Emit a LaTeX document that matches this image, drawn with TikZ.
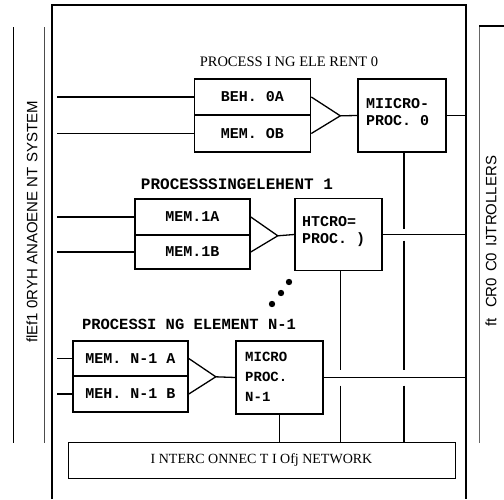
\documentclass[tikz,border=0pt]{standalone}
\usepackage{fontspec}
\setmainfont{Liberation Serif}
\setsansfont{Liberation Sans}
\setmonofont{Liberation Mono}
\begin{document}
\begin{tikzpicture}[x=1pt,y=-1pt,
  box/.style={draw, line width=1.6pt, inner sep=0pt},
  membox/.style={box, minimum width=116pt, font=\ttfamily\bfseries\fontsize{15}{15}\selectfont},
  procbox/.style={box, minimum width=87pt, minimum height=72pt},
  ptxt/.style={font=\ttfamily\bfseries\fontsize{15}{17}\selectfont, align=left, inner sep=0pt, anchor=west},
  wire/.style={line width=1.3pt},
  side/.style={font=\sffamily\fontsize{15}{15}\selectfont, rotate=90},
  serif/.style={font=\fontsize{14.5}{15}\selectfont},
  monolbl/.style={font=\ttfamily\bfseries\fontsize{15.5}{15}\selectfont}]
\useasboundingbox (0,0) rectangle (504,499);
% frame and side rules
\coordinate (FL) at (52,0);
\coordinate (FR) at (466,0);
\coordinate (WL) at (57,0);
\draw[line width=1.3pt] (52,499) -- (52,5) -- (466,5) -- (466,499);
\draw[line width=0.8pt] (13,27) -- (13,443);
\draw[line width=0.8pt, black!70] (44,27) -- (44,443);
\draw[line width=0.8pt, black!60] (479,27) -- (479,443);
\draw[line width=1.2pt] (479,26) -- (504,26);
\node[side] (lsys) at (32,222) {flEf1 0RYH ANAOENE NT SYSTEM};
\node[side] (rctl) at (491,241) {ft\hspace{10pt}CR0\hspace{6pt}C0\hspace{6pt}IJTROLLERS};

% PE 0
\node[serif] (pe0) at (289,62) {PROCESS I NG ELE RENT 0};
\node[membox, minimum height=36pt] (m0a) at (252.5,97) {BEH. 0A};
\node[membox, minimum height=37pt] (m0b) at (252.5,133.5) {MEM. OB};
\node[procbox, minimum width=88pt, minimum height=73pt] (p0) at (402,115.5) {};
\node[ptxt] (p0t) at (366,112) {MIICRO-\\PROC.\ 0};
\coordinate (a0) at ([xshift=29pt]m0a.south east);
\draw[wire] (m0a.east) -- (a0) -- (m0b.east);
\draw[wire] (a0) -- (p0.west);
\draw[wire] (m0a.west -| WL) -- (m0a.west);
\draw[wire] (m0b.west -| WL) -- (m0b.west);
\draw[wire] (p0.east) -- (p0.east -| FR);

% PE 1
\node[monolbl, font=\ttfamily\bfseries\fontsize{16}{16}\selectfont] (pe1) at (237,184) {PROCESSSINGELEHENT 1};
\node[membox, minimum width=115pt, minimum height=36pt] (m1a) at (192.5,217) {MEM.1A};
\node[membox, minimum width=115pt, minimum height=34pt] (m1b) at (192.5,252) {MEM.1B};
\node[procbox] (p1) at (338.5,234.5) {};
\node[ptxt] (p1t) at (302,232) {HTCRO=\\PROC.\ )};
\coordinate (a1) at ([xshift=27pt]m1a.south east);
\draw[wire] (m1a.east) -- (a1) -- (m1b.east);
\draw[wire] (a1) -- (p1.west);
\draw[wire] (m1a.west -| WL) -- (m1a.west);
\draw[wire] (m1b.west -| WL) -- (m1b.west);
\draw[wire] (p1.east) -- (p1.east -| FR);

% dots
\fill (289,282) circle (3.2pt);
\fill (281,293) circle (3.2pt);
\fill (272,304) circle (3.2pt);

% PE N-1
\node[monolbl] (pen) at (189,324) {PROCESSI NG ELEMENT N-1};
\node[membox, minimum width=115pt, minimum height=35pt] (mna) at (130.5,358.5) {MEM. N-1 A};
\node[membox, minimum width=115pt, minimum height=36pt] (mnb) at (130.5,394) {MEH. N-1 B};
\node[procbox, minimum height=73pt] (pn) at (279.5,377.5) {};
\node[ptxt, font=\ttfamily\bfseries\fontsize{14}{20}\selectfont] (pnt) at (245,377) {MICRO\\PROC.\\N-1};
\coordinate (an) at ([xshift=27pt]mna.south east);
\draw[wire] (mna.east) -- (an) -- (mnb.east);
\draw[wire] (an) -- (pn.west);
\draw[wire] (mna.west -| WL) -- (mna.west);
\draw[wire] (mnb.west -| WL) -- (mnb.west);
\draw[wire] (pn.east) -- (pn.east -| FR);

% network
\node[draw, line width=1pt, minimum width=387pt, minimum height=36pt, inner sep=0pt, font=\fontsize{14}{15}\selectfont] (net) at (261.5,460) {I NTERC ONNEC T I Ofj NETWORK};

% verticals to network with hop gaps
\draw[wire] ([xshift=2pt]p0.south) -- ([xshift=2pt,yshift=6pt]p0.south |- p1.east);
\draw[wire] ([xshift=2pt,yshift=-6pt]p0.south |- p1.east) -- ([xshift=2pt,yshift=8pt]p0.south |- pn.east);
\draw[wire] ([xshift=2pt,yshift=-8pt]p0.south |- pn.east) -- ([xshift=2pt]p0.south |- net.north);
\draw[wire] ([xshift=2pt]p1.south) -- ([xshift=2pt,yshift=8pt]p1.south |- pn.east);
\draw[wire] ([xshift=2pt,yshift=-8pt]p1.south |- pn.east) -- ([xshift=2pt]p1.south |- net.north);
\draw[wire] (pn.south) -- (pn.south |- net.north);
\end{tikzpicture}
\end{document}
